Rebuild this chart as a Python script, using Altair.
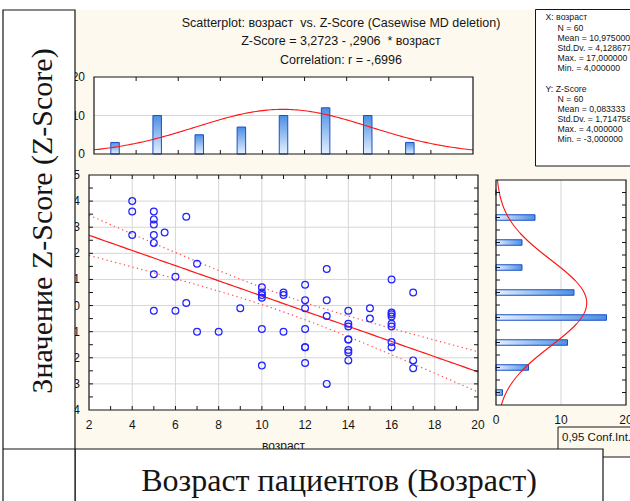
import altair as alt
import pandas as pd

# ---------------- values ----------------
age = [4, 4, 4,
       5, 5, 5, 5, 5, 5, 5,
       5.5,
       6, 6,
       6.5, 6.5,
       7, 7,
       8,
       9,
       10, 10, 10, 10, 10, 10,
       11, 11, 11,
       12, 12, 12, 12, 12, 12, 12,
       13, 13, 13, 13,
       14, 14, 14, 14, 14, 14, 14, 14,
       15, 15,
       16, 16, 16, 16, 16, 16, 16, 16,
       17, 17, 17]
zscore = [4.0, 3.6, 2.7,
          3.6, 3.3, 3.1, 2.7, 2.4, 1.2, -0.2,
          2.8,
          1.1, -0.2,
          3.4, 0.1,
          1.6, -1.0,
          -1.0,
          -0.1,
          0.7, 0.5, 0.4, 0.3, -0.9, -2.3,
          0.5, 0.4, -1.0,
          0.8, 0.2, -0.1, -0.9, -1.6, -1.6, -2.2,
          1.4, 0.2, -0.4, -3.0,
          -0.2, -0.7, -0.8, -1.3, -1.3, -1.7, -1.8, -2.1,
          -0.1, -0.5,
          1.0, -0.27, -0.33, -0.42, -0.7, -0.8, -1.4, -1.6,
          0.5, -2.1, -2.4]

hist_age_centers = [3, 5, 7, 9, 11, 13, 15, 17]
hist_age_counts = [3, 10, 5, 7, 10, 12, 10, 3]
hist_z_centers = [-3.5, -2.5, -1.5, -0.5, 0.5, 1.5, 2.5, 3.5, 4.5]
hist_z_counts = [1, 5, 11, 17, 12, 4, 4, 6, 0]

age_labels = [2, 4, 6, 8, 10, 12, 14, 16, 18, 20]
z_labels = [-4, -3, -2, -1, 0, 1, 2, 3, 4, 5]
count_labels = [0, 10, 20]
age_grid = [4, 6, 8, 10, 12, 14, 16, 18]
z_grid = [-3, -2, -1, 0, 1, 2, 3, 4]
age_minor = list(range(3, 20))
z_minor = [v / 2 for v in range(-7, 10)]
age_minor_top = [4, 6, 8, 10, 12, 14, 16, 18]

title_lines = ["Scatterplot: возраст\u00a0 vs. Z-Score (Casewise MD deletion)",
               "Z-Score = 3,2723 - ,2906\u00a0 * возраст",
               "Correlation: r = -,6996"]
stats_x_head = "X: возраст"
stats_x_lines = ["N = 60", "Mean = 10,975000", "Std.Dv. = 4,128677",
                 "Max. = 17,000000", "Min. = 4,000000"]
stats_z_head = "Y: Z-Score"
stats_z_lines = ["N = 60", "Mean = 0,083333", "Std.Dv. = 1,714758",
                 "Max. = 4,000000", "Min. = -3,000000"]
axis_title_age = "возраст"
big_y_title = "Значение Z-Score (Z-Score)"
big_x_title = "Возраст пациентов (Возраст)"
conf_label = "0,95 Conf.Int."

# statistics printed on the chart (used for the fitted curves)
N_OBS = 60
MEAN_X, SD_X = 10.975, 4.128677
MEAN_Z, SD_Z = 0.083333, 1.714758
B0, B1, R = 3.2723, -0.2906, -0.6996
T975 = 2.0017
S_RES = SD_Z * ((1 - R ** 2) * (N_OBS - 1) / (N_OBS - 2)) ** 0.5
SXX = (N_OBS - 1) * SD_X ** 2
BIN_AGE, BIN_Z = 2, 1

# ---------------- layout / style ----------------
W, H = 630, 501
PX0, PX1 = 89, 478
PY0, PY1 = 410, 175
TY0, TY1 = 154, 77
RX0, RX1 = 496, 626

FONT = "Liberation Sans"
SERIF = "Liberation Serif"
INK = "#151515"
GRID = "#d6d6d6"
BLUE_PT = "#2323ff"
RED = "#ff1414"
RED_DOT = "#ff5050"
BAR_EDGE = "#1c4fc4"
BAR_LIGHT = "#e4f0ff"
BAR_DARK = "#4a8fe4"
CREAM = "#fdf9ee"

one = pd.DataFrame({"k": [0]})


def scale(dom, rng):
    return alt.Scale(domain=dom, range=rng, nice=False, zero=False)


def frame(xs, ys, xd, yd, filled):
    if filled:
        m = alt.Chart(one).mark_rect(fill="white", strokeWidth=0)
    else:
        m = alt.Chart(one).mark_rect(fillOpacity=0, stroke=INK, strokeWidth=1.2)
    return m.encode(
        x=alt.XDatum(xd[0], type="quantitative", scale=xs, axis=None),
        x2=alt.X2Datum(xd[1]),
        y=alt.YDatum(yd[0], type="quantitative", scale=ys, axis=None),
        y2=alt.Y2Datum(yd[1]))


def vrules(values, xs, ys, y_from, y_to, color, off=0):
    kw = {"y2Offset": off} if off else {}
    return alt.Chart(pd.DataFrame({"v": values})).mark_rule(
        color=color, strokeWidth=1, **kw).encode(
        x=alt.X("v:Q", scale=xs, axis=None),
        y=alt.YDatum(y_from, type="quantitative", scale=ys, axis=None),
        y2=alt.Y2Datum(y_to))


def hrules(values, xs, ys, x_from, x_to, color, off=0):
    kw = {"x2Offset": off} if off else {}
    return alt.Chart(pd.DataFrame({"v": values})).mark_rule(
        color=color, strokeWidth=1, **kw).encode(
        y=alt.Y("v:Q", scale=ys, axis=None),
        x=alt.XDatum(x_from, type="quantitative", scale=xs, axis=None),
        x2=alt.X2Datum(x_to))


def xlabels(values, xs, ys, y_at, dy=14.5):
    df = pd.DataFrame({"v": values, "lab": [str(v) for v in values]})
    return alt.Chart(df).mark_text(font=FONT, fontSize=12, color=INK, align="center",
                                   baseline="middle", yOffset=dy).encode(
        x=alt.X("v:Q", scale=xs, axis=None),
        y=alt.YDatum(y_at, type="quantitative", scale=ys, axis=None),
        text="lab:N")


def ylabels(values, xs, ys, x_at, dx=-9):
    df = pd.DataFrame({"v": values, "lab": [str(v) for v in values]})
    return alt.Chart(df).mark_text(font=FONT, fontSize=12, color=INK, align="right",
                                   baseline="middle", xOffset=dx).encode(
        y=alt.Y("v:Q", scale=ys, axis=None),
        x=alt.XDatum(x_at, type="quantitative", scale=xs, axis=None),
        text="lab:N")


# ---------------- top histogram (age) ----------------
t_xs = scale([2, 20], [PX0, PX1])
t_ys = scale([0, 20], [TY0, TY1])
grad_v = alt.LinearGradient(gradient="linear",
                            stops=[alt.GradientStop(color=BAR_LIGHT, offset=0),
                                   alt.GradientStop(color=BAR_DARK, offset=1)],
                            x1=0, x2=0, y1=1, y2=0)
top_bars = alt.Chart(pd.DataFrame({"c": hist_age_centers, "n": hist_age_counts})).mark_bar(
    size=8.5, orient="vertical", fill=grad_v, stroke=BAR_EDGE, strokeWidth=1).encode(
    x=alt.X("c:Q", scale=t_xs, axis=None),
    y=alt.Y("n:Q", scale=t_ys, axis=None),
    y2=alt.Y2Datum(0))
top_curve = alt.Chart(alt.sequence(2, 20.001, 0.1, as_="a")).transform_calculate(
    n=f"{N_OBS * BIN_AGE} / ({SD_X} * sqrt(2 * PI)) * exp(-0.5 * pow((datum.a - {MEAN_X}) / {SD_X}, 2))"
).mark_line(color=RED, strokeWidth=1.1).encode(
    x=alt.X("a:Q", scale=t_xs, axis=None),
    y=alt.Y("n:Q", scale=t_ys, axis=None))
top_panel = alt.layer(
    frame(t_xs, t_ys, [2, 20], [0, 20], True),
    hrules([10], t_xs, t_ys, 2, 20, GRID),
    top_bars, top_curve,
    vrules(age_minor_top, t_xs, t_ys, 0, 0, INK, -4),
    vrules(age_minor_top, t_xs, t_ys, 20, 20, INK, 4),
    frame(t_xs, t_ys, [2, 20], [0, 20], False),
    ylabels(count_labels, t_xs, t_ys, 2))

# ---------------- scatter ----------------
s_xs = scale([2, 20], [PX0, PX1])
s_ys = scale([-4, 5], [PY0, PY1])
pts = alt.Chart(pd.DataFrame({"age": age, "z": zscore})).mark_point(
    shape="circle", filled=False, size=46, strokeWidth=1.2, color=BLUE_PT, opacity=1).encode(
    x=alt.X("age:Q", scale=s_xs, axis=None),
    y=alt.Y("z:Q", scale=s_ys, axis=None))
fit_base = alt.Chart(alt.sequence(2, 20.001, 0.25, as_="age")).transform_calculate(
    fit=f"{B0} + ({B1}) * datum.age",
    se=f"{T975 * S_RES} * sqrt({1 / N_OBS} + pow(datum.age - {MEAN_X}, 2) / {SXX})"
).transform_calculate(hi="datum.fit + datum.se", lo="datum.fit - datum.se")
fit_line = fit_base.mark_line(color=RED, strokeWidth=1.2).encode(
    x=alt.X("age:Q", scale=s_xs, axis=None), y=alt.Y("fit:Q", scale=s_ys, axis=None))
band_hi = fit_base.mark_line(color=RED_DOT, strokeWidth=1.2, strokeDash=[1.3, 3.2]).encode(
    x=alt.X("age:Q", scale=s_xs, axis=None), y=alt.Y("hi:Q", scale=s_ys, axis=None))
band_lo = fit_base.mark_line(color=RED_DOT, strokeWidth=1.2, strokeDash=[1.3, 3.2]).encode(
    x=alt.X("age:Q", scale=s_xs, axis=None), y=alt.Y("lo:Q", scale=s_ys, axis=None))
age_title = alt.Chart(pd.DataFrame({"t": [axis_title_age]})).mark_text(
    font=FONT, fontSize=12, color=INK, align="center", baseline="middle", yOffset=36).encode(
    x=alt.XDatum(11, type="quantitative", scale=s_xs, axis=None),
    y=alt.YDatum(-4, type="quantitative", scale=s_ys, axis=None),
    text="t:N")
scatter_panel = alt.layer(
    frame(s_xs, s_ys, [2, 20], [-4, 5], True),
    vrules(age_grid, s_xs, s_ys, -4, 5, GRID),
    hrules(z_grid, s_xs, s_ys, 2, 20, GRID),
    band_hi, band_lo, fit_line, pts,
    vrules(age_minor, s_xs, s_ys, -4, -4, INK, -4),
    vrules(age_minor, s_xs, s_ys, 5, 5, INK, 4),
    hrules(z_minor, s_xs, s_ys, 2, 2, INK, 4),
    hrules(z_minor, s_xs, s_ys, 20, 20, INK, -4),
    frame(s_xs, s_ys, [2, 20], [-4, 5], False),
    xlabels(age_labels, s_xs, s_ys, -4),
    ylabels(z_labels, s_xs, s_ys, 2),
    age_title)

# ---------------- right histogram (Z-Score) ----------------
r_xs = scale([0, 20], [RX0, RX1])
r_ys = scale([-4, 5], [PY0, PY1])
grad_h = alt.LinearGradient(gradient="linear",
                            stops=[alt.GradientStop(color=BAR_LIGHT, offset=0),
                                   alt.GradientStop(color=BAR_DARK, offset=1)],
                            x1=0, x2=1, y1=0, y2=0)
right_bars = alt.Chart(pd.DataFrame({"c": hist_z_centers, "n": hist_z_counts})).mark_bar(
    size=5.5, orient="horizontal", fill=grad_h, stroke=BAR_EDGE, strokeWidth=1).encode(
    x=alt.X("n:Q", scale=r_xs, axis=None),
    x2=alt.X2Datum(0),
    y=alt.Y("c:Q", scale=r_ys, axis=None))
right_curve = alt.Chart(alt.sequence(-4, 5.001, 0.05, as_="zz")).transform_calculate(
    n=f"{N_OBS * BIN_Z} / ({SD_Z} * sqrt(2 * PI)) * exp(-0.5 * pow((datum.zz - {MEAN_Z}) / {SD_Z}, 2))"
).mark_line(color=RED, strokeWidth=1.1).encode(
    x=alt.X("n:Q", scale=r_xs, axis=None),
    y=alt.Y("zz:Q", scale=r_ys, axis=None),
    order=alt.Order("zz:Q"))
right_panel = alt.layer(
    frame(r_xs, r_ys, [0, 20], [-4, 5], True),
    vrules([10], r_xs, r_ys, -4, 5, GRID),
    right_bars, right_curve,
    hrules(z_minor, r_xs, r_ys, 0, 0, INK, 4),
    hrules(z_minor, r_xs, r_ys, 20, 20, INK, -4),
    frame(r_xs, r_ys, [0, 20], [-4, 5], False),
    xlabels(count_labels, r_xs, r_ys, -4))


# ---------------- decoration and texts ----------------
def box(x0, x1, y0, y1, fill, sw=1.2):
    return alt.Chart(one).mark_rect(fill=fill, stroke=INK, strokeWidth=sw).encode(
        x=alt.value(x0), x2=alt.value(x1), y=alt.value(y0), y2=alt.value(y1))


def plain(x0, x1, y0, y1, fill):
    return alt.Chart(one).mark_rect(fill=fill, strokeWidth=0).encode(
        x=alt.value(x0), x2=alt.value(x1), y=alt.value(y0), y2=alt.value(y1))


def text(t, x, y, size, font=FONT, align="left", baseline="middle", angle=0):
    kw = {"angle": angle} if angle else {}
    return alt.Chart(pd.DataFrame({"t": [t]})).mark_text(
        font=font, fontSize=size, align=align, baseline=baseline, color=INK, **kw).encode(
        text="t:N", x=alt.value(x), y=alt.value(y))


# the canvas background is cream; white surroundings are painted as marks
layers = [plain(0, W, 0, 9.5, "white"),
          plain(603, W, 457, H, "white"),
          top_panel, scatter_panel, right_panel]
for i, line in enumerate(title_lines):
    layers.append(text(line, 341, 26.5 + i * 18.6, 12.5, align="center", baseline="alphabetic"))

layers.append(box(535.5, 640, 9.5, 166, "white", 1))
layers.append(text(stats_x_head, 545.5, 17, 8.7))
for i, line in enumerate(stats_x_lines):
    layers.append(text(line, 557.5, 27.5 + i * 10, 8.7))
layers.append(text(stats_z_head, 545.5, 88.5, 8.7))
for i, line in enumerate(stats_z_lines):
    layers.append(text(line, 557.5, 99 + i * 10, 8.7))

layers.append(box(558, 640, 427, 457, CREAM, 1))
layers.append(text(conf_label, 562, 440.5, 11.5, baseline="alphabetic"))

layers.append(box(75, 603, 449, 520, "white"))
layers.append(text(big_x_title, 339, 491, 32, font=SERIF, align="center", baseline="alphabetic"))

layers.append(plain(0, 75, 0, H, "white"))
layers.append(box(3, 75, 10, 520, "white"))
layers.append(alt.Chart(one).mark_rule(color=INK, strokeWidth=1.2).encode(
    x=alt.value(3), x2=alt.value(75), y=alt.value(449)))
layers.append(text(big_y_title, 52, 221, 30, font=SERIF, align="center",
                   baseline="alphabetic", angle=270))

chart = alt.layer(*layers).resolve_scale(
    x="independent", y="independent"
).properties(
    width=W, height=H, padding=0,
    autosize=alt.AutoSizeParams(type="none"), background=CREAM
).configure_view(stroke=None)

chart.save("out.html", embed_options={"renderer": "svg", "actions": False})
